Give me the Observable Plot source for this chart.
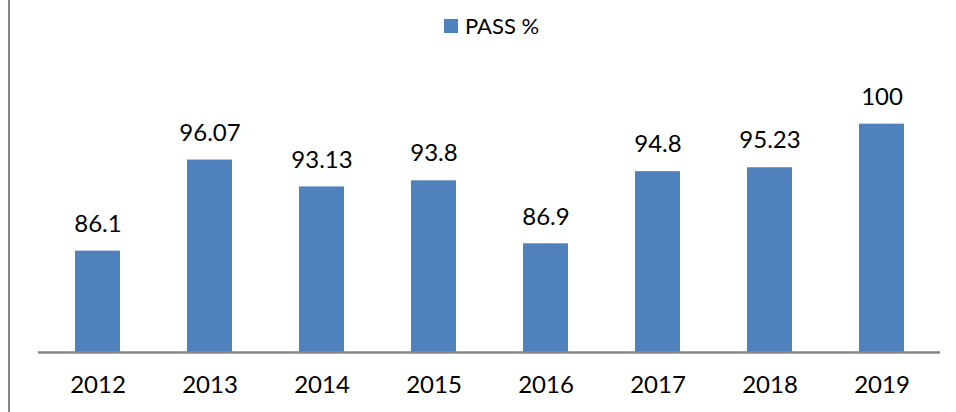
<!DOCTYPE html>
<html>
<head>
<meta charset="utf-8">
<script src="https://cdn.jsdelivr.net/npm/d3@7"></script>
<script src="https://cdn.jsdelivr.net/npm/@observablehq/plot@0.6"></script>
<style>
  html, body { margin: 0; padding: 0; background: #fff; }
  #wrap { position: relative; width: 956px; height: 412px; overflow: hidden; }
  #border { position: absolute; left: 8px; top: 0; width: 2px; height: 412px; background: #878787; }
  #legend { position: absolute; top: 12px; left: 444px; display: flex; align-items: center;
            font-family: Lato, "Open Sans", sans-serif; font-size: 22px; color: #000; }
  #legend .sw { width: 14px; height: 14px; background: #4F81BD; margin-right: 7px; }
</style>
</head>
<body>
<div id="wrap">
  <div id="border"></div>
  <div id="legend"><div class="sw"></div><span>PASS %</span></div>
  <div id="chart"></div>
</div>
<script>
const years = ["2012", "2013", "2014", "2015", "2016", "2017", "2018", "2019"];
const passPct = [86.1, 96.07, 93.13, 93.8, 86.9, 94.8, 95.23, 100];
const yMin = 75;
const yMax = 105;

const data = years.map((y, i) => ({year: y, value: passPct[i]}));

const chart = Plot.plot({
  width: 956,
  height: 412,
  marginTop: 78,
  marginBottom: 60,
  marginLeft: 38,
  marginRight: 16,
  style: {fontFamily: "Lato, 'Open Sans', sans-serif", background: "transparent"},
  x: {domain: years, paddingInner: 0.6, paddingOuter: 0.3, label: null, tickSize: 0, tickPadding: 24},
  y: {domain: [yMin, yMax], axis: null},
  marks: [
    Plot.barY(data, {x: "year", y1: yMin, y2: "value", fill: "#4F81BD"}),
    Plot.ruleY([yMin], {stroke: "#878787", strokeWidth: 2.5}),
    Plot.text(data, {x: "year", y: "value", text: d => String(d.value), dy: -27, fontSize: 24, fill: "#000"}),
    Plot.axisX({tickSize: 0, tickPadding: 23, fontSize: 24, label: null, color: "#000"})
  ]
});
document.getElementById("chart").appendChild(chart);
</script>
</body>
</html>
